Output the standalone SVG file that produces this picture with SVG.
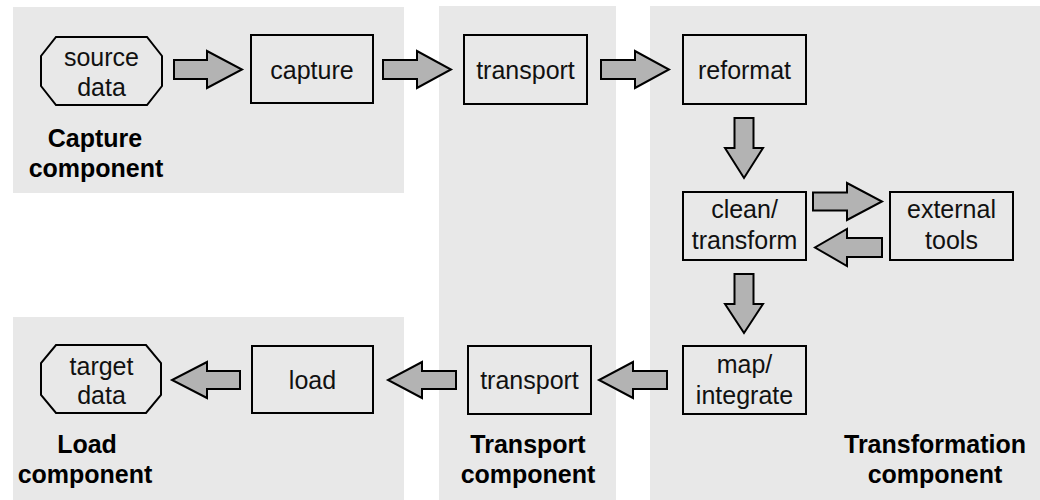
<svg xmlns="http://www.w3.org/2000/svg" width="1040" height="500" viewBox="0 0 1040 500">
  <style>
    .panel { fill: #e8e8e8; stroke: none; }
    .box { fill: none; stroke: #000; stroke-width: 2; }
    .arrow { fill: #b3b3b3; stroke: #000; stroke-width: 2; stroke-linejoin: miter; }
    .label { font-family: "Liberation Sans", Arial, sans-serif; font-size: 25px; fill: #111; text-anchor: middle; }
    .title { font-family: "Liberation Sans", Arial, sans-serif; font-size: 25px; font-weight: bold; fill: #000; text-anchor: middle; }
  </style>

  <!-- component backgrounds -->
  <g id="panels">
    <rect class="panel" x="13" y="7" width="391" height="186"/>
    <rect class="panel" x="13" y="317" width="391" height="183"/>
    <rect class="panel" x="439" y="6" width="177" height="494"/>
    <rect class="panel" x="650" y="6" width="390" height="494"/>
  </g>

  <!-- component titles -->
  <g id="titles">
    <text class="title" x="95" y="147">Capture</text>
    <text class="title" x="96" y="177">component</text>
    <text class="title" x="87" y="453">Load</text>
    <text class="title" x="85" y="483">component</text>
    <text class="title" x="528" y="453">Transport</text>
    <text class="title" x="528" y="483">component</text>
    <text class="title" x="935" y="453">Transformation</text>
    <text class="title" x="935" y="483">component</text>
  </g>

  <!-- block arrows -->
  <g id="connectors">
    <!-- right-pointing -->
    <polygon class="arrow" points="174,60 207,60 207,51 242,69.5 207,88 207,79 174,79"/>
    <polygon class="arrow" points="383,60 417,60 417,51 451,69.5 417,88 417,79 383,79"/>
    <polygon class="arrow" points="601,60 635,60 635,51 669,69.5 635,88 635,79 601,79"/>
    <polygon class="arrow" points="813,192.5 847,192.5 847,183 882,201.5 847,220 847,210.5 813,210.5"/>
    <!-- left-pointing -->
    <polygon class="arrow" points="882,238 847,238 847,229 815,247.5 847,266 847,257 882,257"/>
    <polygon class="arrow" points="667,371 633,371 633,362 599,380 633,398 633,389 667,389"/>
    <polygon class="arrow" points="456,371 422,371 422,362 388,380 422,398 422,389 456,389"/>
    <polygon class="arrow" points="240,371 207,371 207,362 172,380 207,398 207,389 240,389"/>
    <!-- down-pointing -->
    <polygon class="arrow" points="734.5,118 753.5,118 753.5,148 763,148 744,178 725,148 734.5,148"/>
    <polygon class="arrow" points="734.5,274 753.5,274 753.5,304 763,304 744,333 725,304 734.5,304"/>
  </g>

  <!-- nodes -->
  <g id="source-data">
    <polygon class="box" points="56,37 147,37 162,56 162,86 147,105 56,105 41,86 41,56"/>
    <text class="label" x="101.5" y="66">source</text>
    <text class="label" x="101.5" y="96">data</text>
  </g>
  <g id="capture">
    <rect class="box" x="251" y="35" width="122" height="68"/>
    <text class="label" x="312" y="78.5">capture</text>
  </g>
  <g id="transport-out">
    <rect class="box" x="464" y="35" width="123" height="69"/>
    <text class="label" x="525.5" y="78.5">transport</text>
  </g>
  <g id="reformat">
    <rect class="box" x="683" y="35" width="123" height="69"/>
    <text class="label" x="744.5" y="78.5">reformat</text>
  </g>
  <g id="clean-transform">
    <rect class="box" x="683" y="192" width="123" height="68"/>
    <text class="label" x="744.5" y="217.5">clean/</text>
    <text class="label" x="744.5" y="249">transform</text>
  </g>
  <g id="external-tools">
    <rect class="box" x="890" y="192" width="123" height="68"/>
    <text class="label" x="951.5" y="217.5">external</text>
    <text class="label" x="951.5" y="249">tools</text>
  </g>
  <g id="map-integrate">
    <rect class="box" x="683" y="346" width="123" height="68"/>
    <text class="label" x="744.5" y="373">map/</text>
    <text class="label" x="744.5" y="404">integrate</text>
  </g>
  <g id="transport-in">
    <rect class="box" x="468" y="346" width="123" height="68"/>
    <text class="label" x="529.5" y="389">transport</text>
  </g>
  <g id="load">
    <rect class="box" x="252" y="346" width="121" height="67"/>
    <text class="label" x="312.5" y="389">load</text>
  </g>
  <g id="target-data">
    <polygon class="box" points="56,345 146,345 161,363 161,395 146,413 56,413 41,395 41,363"/>
    <text class="label" x="101.5" y="375">target</text>
    <text class="label" x="101.5" y="404">data</text>
  </g>
</svg>
